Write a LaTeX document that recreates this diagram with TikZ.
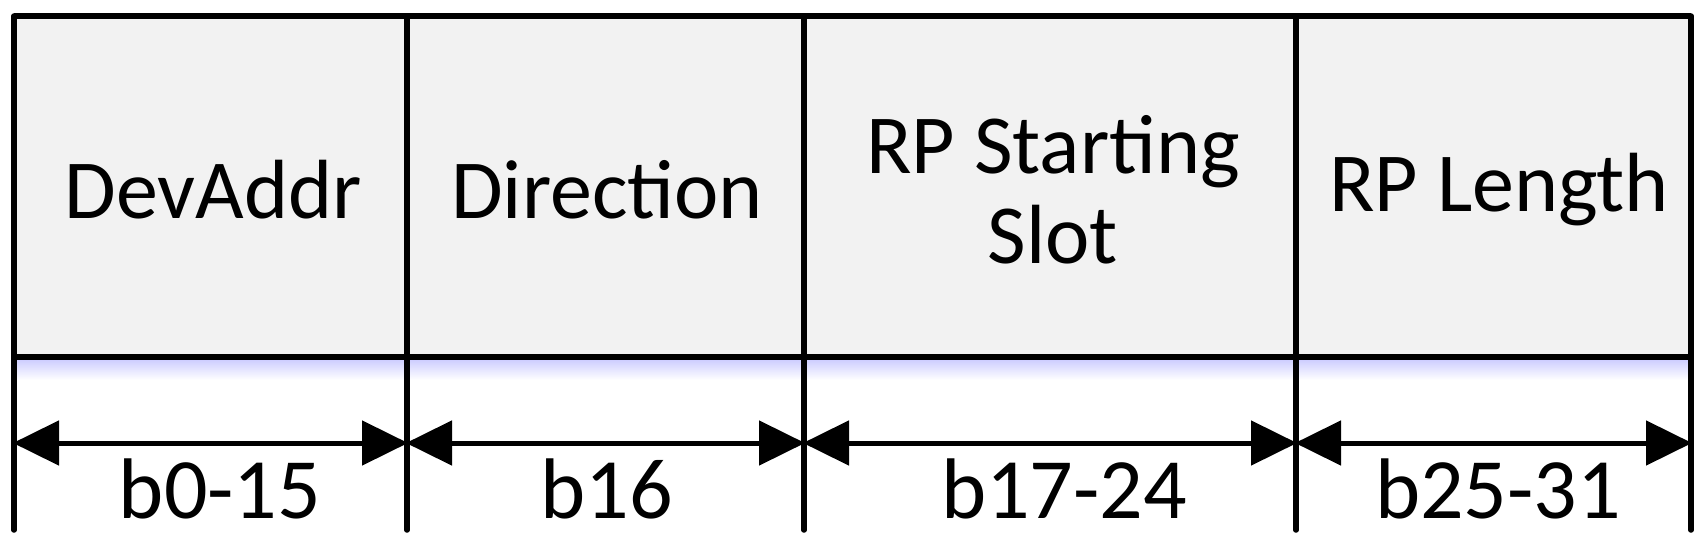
\documentclass[tikz,border=0pt]{standalone}
\usepackage{fontspec}
\setmainfont{Carlito}
\usetikzlibrary{arrows.meta}
\begin{document}
\begin{tikzpicture}[x=1pt,y=-1pt,
  ln/.style={line width=5.5pt},
  dim/.style={line width=5pt,{Triangle[length=46pt,width=44pt]}-{Triangle[length=46pt,width=44pt]},shorten <=-1pt,shorten >=-1pt},
  fld/.style={font=\fontsize{84}{90}\selectfont,align=center},
  bit/.style={font=\fontsize{86}{90}\selectfont}]
\useasboundingbox (0,0) rectangle (1702,553);
\fill[gray!10] (14,16) rectangle (1691,357);
\shade[top color=blue!20!white,bottom color=white] (14,359) rectangle (1691,380);
\foreach \x/\n in {14/a,407/b,804/c,1296/d,1691/e}{
  \coordinate (t\n) at (\x,16); \coordinate (m\n) at (\x,443); \coordinate (b\n) at (\x,530);
  \draw[ln,line cap=round] (t\n) -- (b\n);}
\draw[ln] (ta) -- (te);
\coordinate (hl) at (14,357); \coordinate (hr) at (1691,357);
\draw[ln] (hl) -- (hr);
\draw[dim] (ma) -- (mb); \draw[dim] (mb) -- (mc); \draw[dim] (mc) -- (md); \draw[dim] (md) -- (me);
\node[fld] (f1) at (213,190) {DevAddr};
\node[fld] (f2) at (607,190) {Direction};
\node[fld] (f3) at (1053,190) {RP Starting\\Slot};
\node[fld] (f4) at (1499,190) {RP Length};
\node[bit] (l1) at (220,489) {b0-15};
\node[bit] (l2) at (607,489) {b16};
\node[bit] (l3) at (1064,489) {b17-24};
\node[bit] (l4) at (1498,489) {b25-31};
\end{tikzpicture}
\end{document}
